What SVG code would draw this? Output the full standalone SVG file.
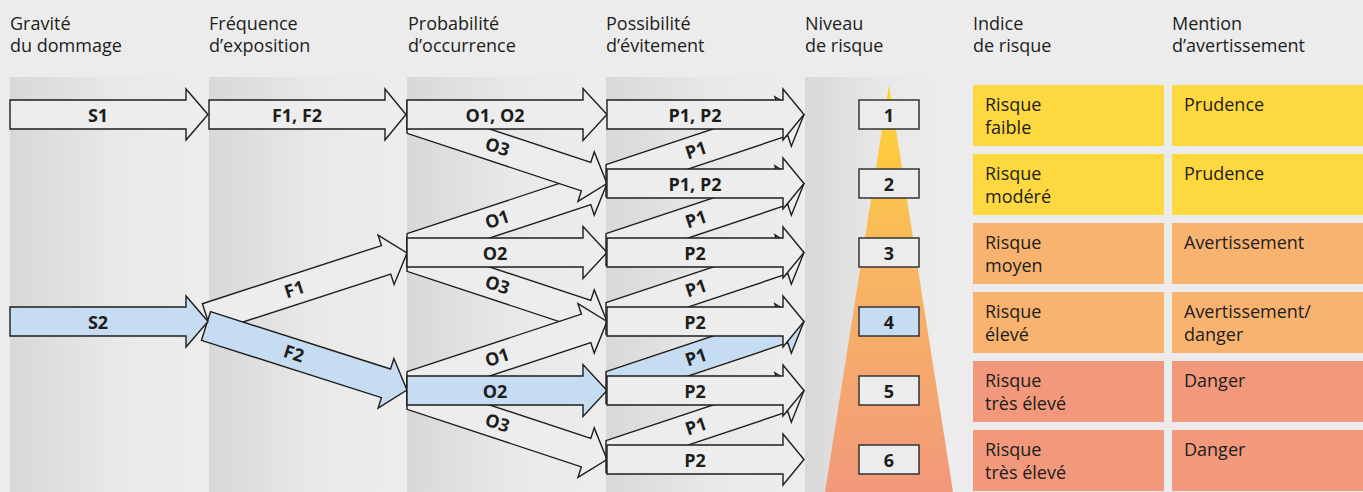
<svg xmlns="http://www.w3.org/2000/svg" width="1363" height="492" viewBox="0 0 1363 492">
<defs>
<linearGradient id="pg" x1="0" y1="0" x2="1" y2="0">
<stop offset="0" stop-color="#d8d8d8"/>
<stop offset="0.55" stop-color="#e9e9e9"/>
<stop offset="1" stop-color="#ededed"/>
</linearGradient>
<linearGradient id="tg" gradientUnits="userSpaceOnUse" x1="0" y1="85" x2="0" y2="492">
<stop offset="0" stop-color="#ffd42c"/>
<stop offset="0.45" stop-color="#f8b662"/>
<stop offset="1" stop-color="#f2987b"/>
</linearGradient>
<style>
.hd{font-family:"Open Sans","Noto Sans",sans-serif;font-size:18px;fill:#1d1d1b}
.lb{font-family:"Open Sans","Noto Sans",sans-serif;font-size:18px;font-weight:bold;fill:#1d1d1b;text-anchor:middle}
.ar{fill:#ededed;stroke:#1d1d1b;stroke-width:1.4;stroke-linejoin:miter}
.ar.bl{fill:#c5dcf2}
.pn{fill:url(#pg)}
.lv{fill:#ececec;stroke:#333;stroke-width:1.5}
.lv.bl{fill:#c5dcf2}
.y{fill:#fed83f}.o{fill:#f8b370}.r{fill:#f2987c}
</style>
</defs>
<rect width="1363" height="492" fill="#ececec"/>
<g id="columns">
<rect class="pn" x="10" y="77" width="199" height="415"/>
<rect class="pn" x="209" y="77" width="198" height="415"/>
<rect class="pn" x="407" y="77" width="199" height="415"/>
<rect class="pn" x="606" y="77" width="199" height="415"/>
<rect class="pn" x="805" y="77" width="150" height="415"/>
<polygon points="889,85 953,492 825,492" fill="url(#tg)"/>
</g>
<g id="headers" class="hd">
<text x="10" y="30">Gravité</text><text x="10" y="52">du dommage</text>
<text x="209" y="30">Fréquence</text><text x="209" y="52">d’exposition</text>
<text x="408" y="30">Probabilité</text><text x="408" y="52">d’occurrence</text>
<text x="606" y="30">Possibilité</text><text x="606" y="52">d’évitement</text>
<text x="805" y="30">Niveau</text><text x="805" y="52">de risque</text>
<text x="973" y="30">Indice</text><text x="973" y="52">de risque</text>
<text x="1172" y="30">Mention</text><text x="1172" y="52">d’avertissement</text>
</g>
<g id="connectors">
<!-- F diagonals -->
<g id="a-F1" transform="translate(207,318) rotate(-18)"><polygon class="ar" points="0,-15 188.3,-15 188.3,-26 210.3,0 188.3,26 188.3,15 0,15"/><text class="lb" x="92" y="6">F1</text></g>
<g id="a-F2" transform="translate(206,326) rotate(17.66)"><polygon class="ar bl" points="0,-15 188.9,-15 188.9,-26 210.9,0 188.9,26 188.9,15 0,15"/><text class="lb" x="92" y="6">F2</text></g>
<!-- S horizontals -->
<g id="a-S1" transform="translate(10,114.5)"><polygon class="ar" points="0,-14.5 176,-14.5 176,-25.5 198,0 176,25.5 176,14.5 0,14.5"/><text class="lb" x="88" y="7">S1</text></g>
<g id="a-S2" transform="translate(10,321.5)"><polygon class="ar bl" points="0,-14.5 176,-14.5 176,-25.5 198,0 176,25.5 176,14.5 0,14.5"/><text class="lb" x="88" y="7">S2</text></g>
<g id="a-F1F2" transform="translate(209,114.5)"><polygon class="ar" points="0,-14.5 176,-14.5 176,-25.5 197,0 176,25.5 176,14.5 0,14.5"/><text class="lb" x="88" y="7">F1, F2</text></g>
<!-- O diagonals -->
<g id="a-O1-r3" transform="translate(407,249.5) rotate(-18.26)"><polygon class="ar" points="4.95,-15 188.6,-15 188.6,-26 210.6,0 188.6,26 188.6,15 -4.95,15"/><text class="lb" x="95" y="6">O1</text></g>
<g id="a-O3-r3" transform="translate(407,255.5) rotate(18.26)"><polygon class="ar" points="-4.95,-15 188.6,-15 188.6,-26 210.6,0 188.6,26 188.6,15 4.95,15"/><text class="lb" x="95" y="6">O3</text></g>
<g id="a-O3-r1" transform="translate(407,117.5) rotate(18.26)"><polygon class="ar" points="-4.95,-15 188.6,-15 188.6,-26 210.6,0 188.6,26 188.6,15 4.95,15"/><text class="lb" x="95" y="6">O3</text></g>
<g id="a-O1-r5" transform="translate(407,387.5) rotate(-18.26)"><polygon class="ar" points="4.95,-15 188.6,-15 188.6,-26 210.6,0 188.6,26 188.6,15 -4.95,15"/><text class="lb" x="95" y="6">O1</text></g>
<g id="a-O3-r5" transform="translate(407,393.5) rotate(18.26)"><polygon class="ar" points="-4.95,-15 188.6,-15 188.6,-26 210.6,0 188.6,26 188.6,15 4.95,15"/><text class="lb" x="95" y="6">O3</text></g>
<!-- O horizontals -->
<g id="a-O1O2" transform="translate(407,114.5)"><polygon class="ar" points="0,-14.5 176,-14.5 176,-26 200,0 176,26 176,14.5 0,14.5"/><text class="lb" x="88" y="7">O1, O2</text></g>
<g id="a-O2-r3" transform="translate(407,252.5)"><polygon class="ar" points="0,-14.5 176,-14.5 176,-26 200,0 176,26 176,14.5 0,14.5"/><text class="lb" x="88" y="7">O2</text></g>
<g id="a-O2-r5" transform="translate(407,390.5)"><polygon class="ar bl" points="0,-14.5 176,-14.5 176,-26 200,0 176,26 176,14.5 0,14.5"/><text class="lb" x="88" y="7">O2</text></g>
<!-- P diagonals -->
<g id="a-P1-r2" transform="translate(606,180.5) rotate(-18.43)"><polygon class="ar" points="5,-15 186.7,-15 186.7,-26 208.7,0 186.7,26 186.7,15 -5,15"/><text class="lb" x="95" y="6">P1</text></g>
<g id="a-P1-r3" transform="translate(606,249.5) rotate(-18.43)"><polygon class="ar" points="5,-15 186.7,-15 186.7,-26 208.7,0 186.7,26 186.7,15 -5,15"/><text class="lb" x="95" y="6">P1</text></g>
<g id="a-P1-r4" transform="translate(606,318.5) rotate(-18.43)"><polygon class="ar" points="5,-15 186.7,-15 186.7,-26 208.7,0 186.7,26 186.7,15 -5,15"/><text class="lb" x="95" y="6">P1</text></g>
<g id="a-P1-r5" transform="translate(606,387.5) rotate(-18.43)"><polygon class="ar bl" points="5,-15 186.7,-15 186.7,-26 208.7,0 186.7,26 186.7,15 -5,15"/><text class="lb" x="95" y="6">P1</text></g>
<g id="a-P1-r6" transform="translate(606,456.5) rotate(-18.43)"><polygon class="ar" points="5,-15 186.7,-15 186.7,-26 208.7,0 186.7,26 186.7,15 -5,15"/><text class="lb" x="95" y="6">P1</text></g>
<!-- P horizontals -->
<g id="a-P-r1" transform="translate(607,114.5)"><polygon class="ar" points="0,-14.5 176,-14.5 176,-25.5 197,0 176,25.5 176,14.5 0,14.5"/><text class="lb" x="88" y="7">P1, P2</text></g>
<g id="a-P-r2" transform="translate(607,183.5)"><polygon class="ar" points="0,-14.5 176,-14.5 176,-25.5 197,0 176,25.5 176,14.5 0,14.5"/><text class="lb" x="88" y="7">P1, P2</text></g>
<g id="a-P-r3" transform="translate(607,252.5)"><polygon class="ar" points="0,-14.5 176,-14.5 176,-25.5 197,0 176,25.5 176,14.5 0,14.5"/><text class="lb" x="88" y="7">P2</text></g>
<g id="a-P-r4" transform="translate(607,321.5)"><polygon class="ar" points="0,-14.5 176,-14.5 176,-25.5 197,0 176,25.5 176,14.5 0,14.5"/><text class="lb" x="88" y="7">P2</text></g>
<g id="a-P-r5" transform="translate(607,390.5)"><polygon class="ar" points="0,-14.5 176,-14.5 176,-25.5 197,0 176,25.5 176,14.5 0,14.5"/><text class="lb" x="88" y="7">P2</text></g>
<g id="a-P-r6" transform="translate(607,459.5)"><polygon class="ar" points="0,-14.5 176,-14.5 176,-25.5 197,0 176,25.5 176,14.5 0,14.5"/><text class="lb" x="88" y="7">P2</text></g>
</g>
<g id="level-1"><rect class="lv" x="859" y="100" width="60" height="29"/><text class="lb" x="889" y="121.5">1</text></g>
<g id="level-2"><rect class="lv" x="859" y="169" width="60" height="29"/><text class="lb" x="889" y="190.5">2</text></g>
<g id="level-3"><rect class="lv" x="859" y="238" width="60" height="29"/><text class="lb" x="889" y="259.5">3</text></g>
<g id="level-4"><rect class="lv bl" x="859" y="307" width="60" height="29"/><text class="lb" x="889" y="328.5">4</text></g>
<g id="level-5"><rect class="lv" x="859" y="376" width="60" height="29"/><text class="lb" x="889" y="397.5">5</text></g>
<g id="level-6"><rect class="lv" x="859" y="445" width="60" height="29"/><text class="lb" x="889" y="466.5">6</text></g>
<g id="risk-1" class="hd"><rect class="y" x="973" y="85" width="191" height="61"/><rect class="y" x="1172" y="85" width="191" height="61"/><text x="985" y="111">Risque</text><text x="985" y="134">faible</text><text x="1184" y="111">Prudence</text></g>
<g id="risk-2" class="hd"><rect class="y" x="973" y="154" width="191" height="61"/><rect class="y" x="1172" y="154" width="191" height="61"/><text x="985" y="180">Risque</text><text x="985" y="203">modéré</text><text x="1184" y="180">Prudence</text></g>
<g id="risk-3" class="hd"><rect class="o" x="973" y="223" width="191" height="61"/><rect class="o" x="1172" y="223" width="191" height="61"/><text x="985" y="249">Risque</text><text x="985" y="272">moyen</text><text x="1184" y="249">Avertissement</text></g>
<g id="risk-4" class="hd"><rect class="o" x="973" y="292" width="191" height="61"/><rect class="o" x="1172" y="292" width="191" height="61"/><text x="985" y="318">Risque</text><text x="985" y="341">élevé</text><text x="1184" y="318">Avertissement/</text><text x="1184" y="341">danger</text></g>
<g id="risk-5" class="hd"><rect class="r" x="973" y="361" width="191" height="61"/><rect class="r" x="1172" y="361" width="191" height="61"/><text x="985" y="387">Risque</text><text x="985" y="410">très élevé</text><text x="1184" y="387">Danger</text></g>
<g id="risk-6" class="hd"><rect class="r" x="973" y="430" width="191" height="61"/><rect class="r" x="1172" y="430" width="191" height="61"/><text x="985" y="456">Risque</text><text x="985" y="479">très élevé</text><text x="1184" y="456">Danger</text></g>
</svg>
